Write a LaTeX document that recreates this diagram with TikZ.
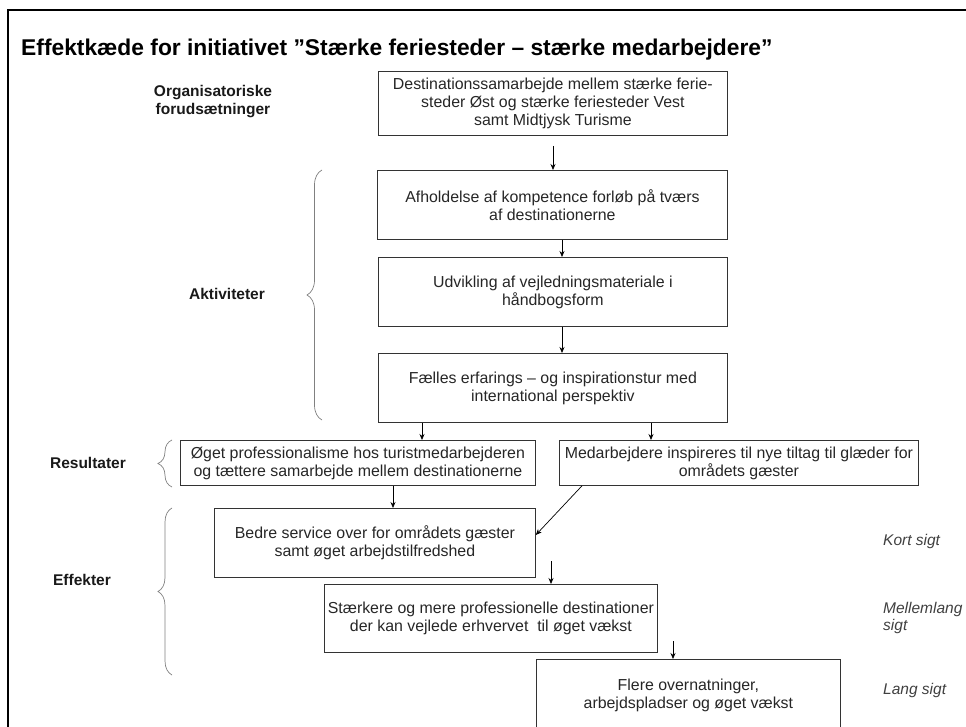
\documentclass[tikz,border=0pt]{standalone}
\usepackage{fontspec}
\setmainfont{Liberation Sans}
\usetikzlibrary{arrows.meta,decorations.pathreplacing}

\newcommand\bxfont{\fontsize{15.9}{18}\selectfont}
\newcommand\lblfont{\fontsize{15.5}{18}\selectfont\bfseries}
\newcommand\termfont{\fontsize{15.5}{17}\selectfont\itshape}
\newcommand\ttlfont{\fontsize{22.8}{26}\selectfont\bfseries}

\begin{document}
\begin{tikzpicture}[x=1pt,y=-1pt,
  box/.style={draw=black!80, line width=0.8pt, inner sep=0pt, align=center,
    anchor=north west, font=\bxfont, text=black!85},
  lbl/.style={font=\lblfont, align=center, inner sep=0pt, text=black!90},
  term/.style={font=\termfont, align=left, anchor=west, inner sep=0pt, text=black!75},
  arr/.style={draw=black, line width=0.7pt, -{Stealth[length=6pt,width=5pt]}},
  brc/.style={draw=black!50, line width=0.7pt, decorate,
    decoration={brace, amplitude=#1}},
  brc/.default=14pt]

\useasboundingbox (0,0) rectangle (966,727);
\begin{scope}
\clip (0,0) rectangle (966,727);

% page frame (open to the right and bottom)
\draw[line width=2pt] (8,740) -- (8,10) -- (980,10);

% title
\node[anchor=west, inner sep=0pt, font=\ttlfont] (title) at (21,50)
  {Effektkæde for initiativet ”Stærke feriesteder – stærke medarbejdere”};

% chain boxes
\node[box, minimum width=349pt, minimum height=64pt] (b1) at (378,71)
  {Destinationssamarbejde mellem stærke ferie-\\steder Øst og stærke feriesteder Vest\\samt Midtjysk Turisme};
\node[box, minimum width=350pt, minimum height=69pt] (b2) at (377,170)
  {Afholdelse af kompetence forløb på tværs\\af destinationerne};
\node[box, minimum width=349pt, minimum height=69pt] (b3) at (378,257)
  {Udvikling af vejledningsmateriale i\\håndbogsform};
\node[box, minimum width=349pt, minimum height=69pt] (b4) at (378,353)
  {Fælles erfarings – og inspirationstur med\\international perspektiv};
\node[box, minimum width=355pt, minimum height=45pt] (r1) at (180,440)
  {Øget professionalisme hos turistmedarbejderen\\og tættere samarbejde mellem destinationerne};
\node[box, minimum width=359pt, minimum height=45pt] (r2) at (559,440)
  {Medarbejdere inspireres til nye tiltag til glæder for\\områdets gæster};
\node[box, minimum width=321pt, minimum height=69pt] (e1) at (214,508)
  {Bedre service over for områdets gæster\\samt øget arbejdstilfredshed};
\node[box, minimum width=333pt, minimum height=68pt] (e2) at (324,584)
  {Stærkere og mere professionelle destinationer\\der kan vejlede erhvervet\ \ til øget vækst};
\node[box, minimum width=304pt, minimum height=72pt] (e3) at (536,659)
  {Flere overnatninger,\\arbejdspladser og øget vækst};

% arrow columns
\coordinate (x1) at (553,0);
\coordinate (x2) at (562,0);
\coordinate (x4) at (422,0);
\coordinate (x5) at (651,0);
\coordinate (x6) at (393,0);
\coordinate (xd) at (582,0);
\coordinate (yd) at (0,535);
\coordinate (s7) at (551,561);
\coordinate (s8) at (673,641);

\draw[arr, shorten <=10pt] (b1.south -| x1) -- (b2.north -| x1);
\draw[arr] (b2.south -| x2) -- (b3.north -| x2);
\draw[arr] (b3.south -| x2) -- (b4.north -| x2);
\draw[arr] (b4.south -| x4) -- (r1.north -| x4);
\draw[arr] (b4.south -| x5) -- (r2.north -| x5);
\draw[arr] (r1.south -| x6) -- (e1.north -| x6);
\draw[arr] (r2.south -| xd) -- (e1.east |- yd);
\draw[arr] (s7) -- (s7 |- e2.north);
\draw[arr] (s8) -- (s8 |- e3.north);

% left-hand stage labels and braces
\node[lbl] (lorg) at (213,102) {Organisatoriske\\forudsætninger};
\node[lbl] (lakt) at (227,294) {Aktiviteter};
\node[lbl] (lres) at (88,463) {Resultater};
\node[lbl] (leff) at (82,580) {Effekter};

\draw[brc=15pt] (322,420) -- (322,170);
\draw[brc] (172,487) -- (172,440);
\draw[brc] (172,675) -- (172,508);

% time horizons
\node[term] (tk) at (883,541) {Kort sigt};
\node[term] (tm) at (883,618) {Mellemlang\\sigt};
\node[term] (tl) at (883,690) {Lang sigt};
\end{scope}
\end{tikzpicture}
\end{document}
